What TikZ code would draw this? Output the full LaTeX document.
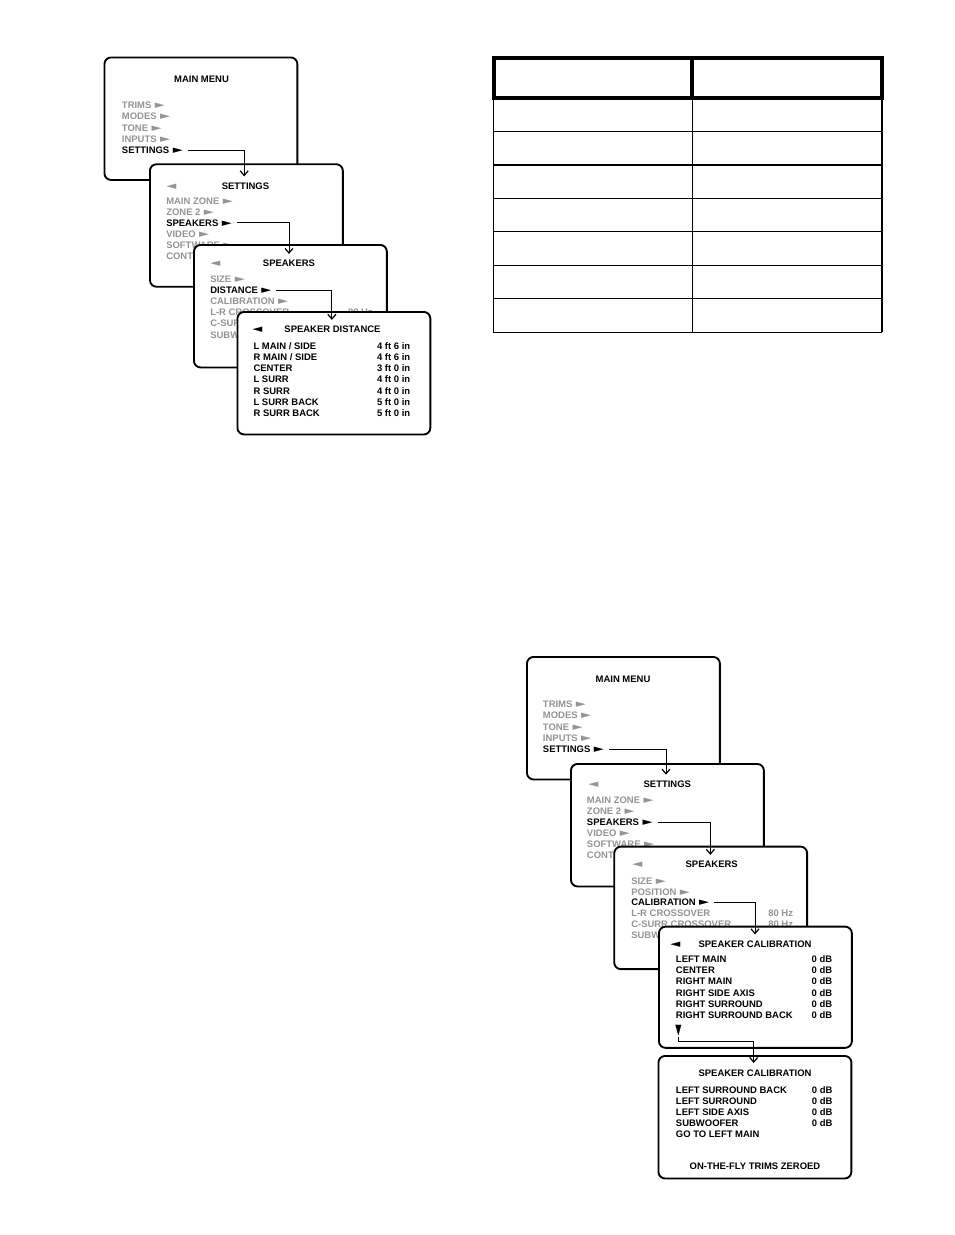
\documentclass[tikz,border=0pt]{standalone}
\usepackage{fontspec}
\setmainfont{Liberation Sans}
\newfontfamily\symfont{DejaVu Sans}
\usetikzlibrary{arrows.meta}
\definecolor{menugray}{gray}{0.58}
\newcommand\rtri{\hspace{2.6pt}{\symfont\fontsize{7}{8}\selectfont\scalebox{1.4}[1.15]{►}}}
\newcommand\ltri{{\symfont\fontsize{7}{8}\selectfont\scalebox{1.4}[1.15]{◄}}}
\newcommand\dtri{{\symfont\fontsize{8}{8}\selectfont\scalebox{0.75}[1.35]{▼}}}
\tikzset{
  menubox/.style={draw, line width=1.4pt, rounded corners=5pt, fill=white, inner sep=0pt,
    anchor=north west, minimum width=144.7pt, minimum height=91.9pt},
  txt/.style={inner sep=0pt, text height=5pt, text depth=0pt,
    font=\fontsize{7.1}{8}\selectfont\bfseries, anchor=west},
  gr/.style={txt, text=menugray},
  hd/.style={txt, anchor=center},
  val/.style={txt, anchor=east},
  grval/.style={gr, anchor=east},
  link/.style={line width=0.7pt, -{Straight Barb[length=3.5pt,width=6pt,line width=0.9pt]}},
  tabthick/.style={line width=3pt},
  tabthin/.style={line width=0.8pt},
}
\begin{document}
\begin{tikzpicture}[x=0.75pt,y=-0.75pt]
\useasboundingbox (0,0) rectangle (954,1235);

% ================= TOP CASCADE =================
\node[menubox] (T1) at (103.5,56.5) {};
\node[hd] (t1h) at (201.5,79) {MAIN MENU};
\node[gr] (t1a) at (121.7,105.5) {TRIMS\rtri};
\node[gr] (t1b) at (121.7,116.6) {MODES\rtri};
\node[gr] (t1c) at (121.7,127.7) {TONE\rtri};
\node[gr] (t1d) at (121.7,138.8) {INPUTS\rtri};
\node[txt] (t1s) at (121.7,150.2) {SETTINGS\rtri};

\node[menubox] (T2) at (149,163.3) {};
\node[gr] (t2l) at (166,186) {\ltri};
\node[hd] (t2h) at (245.5,186) {SETTINGS};
\node[gr] (t2a) at (166,200.7) {MAIN ZONE\rtri};
\node[gr] (t2b) at (166,211.8) {ZONE 2\rtri};
\node[txt] (t2s) at (166,222.9) {SPEAKERS\rtri};
\node[gr] (t2c) at (166,234) {VIDEO\rtri};
\node[gr] (t2d) at (166,245.1) {SOFTWARE\rtri};
\node[gr] (t2e) at (166,256.2) {CONTROLS\rtri};
\draw[link] ([xshift=3.5pt]t1s.east) -| ([xshift=-1pt,yshift=4.5pt]t2h.north);

\node[menubox] (T3) at (193,244) {};
\node[gr] (t3l) at (210,263.5) {\ltri};
\node[hd] (t3h) at (289,263.5) {SPEAKERS};
\node[gr] (t3a) at (210,279) {SIZE\rtri};
\node[txt] (t3s) at (210,290.3) {DISTANCE\rtri};
\node[gr] (t3b) at (210,301.4) {CALIBRATION\rtri};
\node[gr] (t3c) at (210,312.5) {L-R CROSSOVER};
\node[grval] (t3cv) at (373,312.5) {80 Hz};
\node[gr] (t3d) at (210,323.6) {C-SURR CROSSOVER};
\node[gr] (t3e) at (210,334.7) {SUBWOOFER};
\draw[link] ([xshift=3.5pt]t2s.east) -| ([yshift=4.5pt]t3h.north);

\node[menubox] (T4) at (236.5,311) {};
\node[txt] (t4l) at (252,329.5) {\ltri};
\node[hd] (t4h) at (332.5,329.5) {SPEAKER DISTANCE};
\node[txt] (t4r1) at (253.3,346.5) {L MAIN / SIDE};
\node[val] (t4v1) at (410.5,346.5) {4 ft 6 in};
\node[txt] (t4r2) at (253.3,357.5) {R MAIN / SIDE};
\node[val] (t4v2) at (410.5,357.5) {4 ft 6 in};
\node[txt] (t4r3) at (253.3,368.6) {CENTER};
\node[val] (t4v3) at (410.5,368.6) {3 ft 0 in};
\node[txt] (t4r4) at (253.3,379.6) {L SURR};
\node[val] (t4v4) at (410.5,379.6) {4 ft 0 in};
\node[txt] (t4r5) at (253.3,390.7) {R SURR};
\node[val] (t4v5) at (410.5,390.7) {4 ft 0 in};
\node[txt] (t4r6) at (253.3,401.7) {L SURR BACK};
\node[val] (t4v6) at (410.5,401.7) {5 ft 0 in};
\node[txt] (t4r7) at (253.3,412.8) {R SURR BACK};
\node[val] (t4v7) at (410.5,412.8) {5 ft 0 in};
\draw[link] ([xshift=3.5pt]t3s.east) -| ([xshift=-0.5pt,yshift=4.5pt]t4h.north);

% ================= TABLE =================
\draw[tabthin] (493.3,97.7) -- (493.3,332.3);
\draw[line width=1pt] (692.3,97.7) -- (692.3,332.3);
\draw[line width=1.5pt] (881.7,97.7) -- (881.7,332.3);
\foreach \yy in {131.3,198.3,231.7,265.3,298.7,332.3}
  \draw[tabthin] (493.3,\yy) -- (882.2,\yy);
\draw[line width=1.3pt] (493.3,165) -- (882.2,165);
\draw[tabthick] (493.7,58) rectangle (882,97.7);
\draw[tabthick] (691.7,58) -- (691.7,97.7);

% ================= BOTTOM CASCADE =================
\node[menubox] (B1) at (526,656) {};
\node[hd] (b1h) at (623,679) {MAIN MENU};
\node[gr] (b1a) at (542.7,704.5) {TRIMS\rtri};
\node[gr] (b1b) at (542.7,715.6) {MODES\rtri};
\node[gr] (b1c) at (542.7,726.7) {TONE\rtri};
\node[gr] (b1d) at (542.7,737.8) {INPUTS\rtri};
\node[txt] (b1s) at (542.7,749) {SETTINGS\rtri};

\node[menubox] (B2) at (570,763) {};
\node[gr] (b2l) at (588,784.3) {\ltri};
\node[hd] (b2h) at (667.3,784.3) {SETTINGS};
\node[gr] (b2a) at (586.7,800) {MAIN ZONE\rtri};
\node[gr] (b2b) at (586.7,811.2) {ZONE 2\rtri};
\node[txt] (b2s) at (586.7,822.3) {SPEAKERS\rtri};
\node[gr] (b2c) at (586.7,833.4) {VIDEO\rtri};
\node[gr] (b2d) at (586.7,844.5) {SOFTWARE\rtri};
\node[gr] (b2e) at (586.7,855.6) {CONTROLS\rtri};
\draw[link] ([xshift=3.5pt]b1s.east) -| ([xshift=-1pt,yshift=4.5pt]b2h.north);

\node[menubox] (B3) at (613.3,845.7) {};
\node[gr] (b3l) at (632,864.5) {\ltri};
\node[hd] (b3h) at (711.7,864.5) {SPEAKERS};
\node[gr] (b3a) at (631,880.7) {SIZE\rtri};
\node[gr] (b3b) at (631,891.7) {POSITION\rtri};
\node[txt] (b3s) at (631,902.5) {CALIBRATION\rtri};
\node[gr] (b3c) at (631,913.5) {L-R CROSSOVER};
\node[grval] (b3cv) at (793.3,913.5) {80 Hz};
\node[gr] (b3d) at (631,924.5) {C-SURR CROSSOVER};
\node[grval] (b3dv) at (793.3,924.5) {80 Hz};
\node[gr] (b3e) at (631,935.5) {SUBWOOFER};
\draw[link] ([xshift=3.5pt]b2s.east) -| ([xshift=-1pt,yshift=4.5pt]b3h.north);

\node[menubox, minimum height=90.9pt] (B4) at (658,925.7) {};
\node[txt] (b4l) at (670,944) {\ltri};
\node[hd] (b4h) at (755,944) {SPEAKER CALIBRATION};
\node[txt] (b4r1) at (675.7,959) {LEFT MAIN};
\node[val] (b4v1) at (832.5,959) {0 dB};
\node[txt] (b4r2) at (675.7,970.3) {CENTER};
\node[val] (b4v2) at (832.5,970.3) {0 dB};
\node[txt] (b4r3) at (675.7,981.6) {RIGHT MAIN};
\node[val] (b4v3) at (832.5,981.6) {0 dB};
\node[txt] (b4r4) at (675.7,992.9) {RIGHT SIDE AXIS};
\node[val] (b4v4) at (832.5,992.9) {0 dB};
\node[txt] (b4r5) at (675.7,1004.2) {RIGHT SURROUND};
\node[val] (b4v5) at (832.5,1004.2) {0 dB};
\node[txt] (b4r6) at (675.7,1015.5) {RIGHT SURROUND BACK};
\node[val] (b4v6) at (832.5,1015.5) {0 dB};
\node[inner sep=0pt, anchor=center] (b4d) at (678.5,1031) {\dtri};
\draw[link] ([xshift=3.5pt]b3s.east) -| ([yshift=4.5pt]b4h.north);

\node[menubox] (B5) at (657.5,1055) {};
\node[hd] (b5h) at (755,1073.3) {SPEAKER CALIBRATION};
\node[txt] (b5r1) at (675.7,1090) {LEFT SURROUND BACK};
\node[val] (b5v1) at (832.7,1090) {0 dB};
\node[txt] (b5r2) at (675.7,1100.9) {LEFT SURROUND};
\node[val] (b5v2) at (832.7,1100.9) {0 dB};
\node[txt] (b5r3) at (675.7,1111.8) {LEFT SIDE AXIS};
\node[val] (b5v3) at (832.7,1111.8) {0 dB};
\node[txt] (b5r4) at (675.7,1122.7) {SUBWOOFER};
\node[val] (b5v4) at (832.7,1122.7) {0 dB};
\node[txt] (b5r5) at (675.7,1133.8) {GO TO LEFT MAIN};
\node[hd] (b5f) at (755,1166.5) {ON-THE-FLY TRIMS ZEROED};
\draw[link] (b4d.south) -- ++(0,5) -| ([xshift=-1pt,yshift=5pt]b5h.north);
\end{tikzpicture}
\end{document}
